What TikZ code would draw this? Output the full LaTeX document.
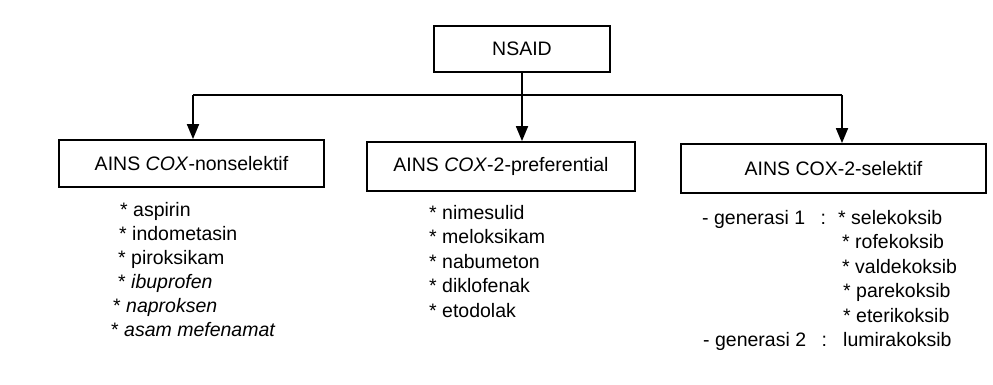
\documentclass[tikz,border=0pt]{standalone}
\usepackage{fontspec}
\setmainfont{Liberation Sans}
\usetikzlibrary{arrows.meta}
\begin{document}
\begin{tikzpicture}[x=1pt,y=-1pt,
  txt/.style={font=\fontsize{19.5}{24}\selectfont},
  box/.style={txt, draw, line width=1.8pt, inner sep=0pt},
  item/.style={txt, anchor=base west, inner sep=0pt},
  conn/.style={line width=1.8pt},
  arr/.style={conn, -{Triangle[width=12pt,length=15pt]}}]
\path[use as bounding box] (0,0) rectangle (993,385);

\node[box, minimum width=176pt, minimum height=46pt] (nsaid) at (522,49) {NSAID};
\node[box, minimum width=265pt, minimum height=47pt] (left) at (191.5,163.5) {AINS \textit{COX}-nonselektif};
\node[box, minimum width=268pt, minimum height=49pt] (mid) at (501,166.5) {AINS \textit{COX}-2-preferential};
\node[box, minimum width=305pt, minimum height=49pt] (right) at (833.5,168.5) {AINS COX-2-selektif};

\coordinate (lt) at (193,95);
\coordinate (rt) at (842,95);
\draw[conn] (lt) -- (rt);
\draw[arr] (lt) -- (lt |- left.north);
\draw[arr] (nsaid.south) -- (nsaid.south |- mid.north);
\draw[arr] (rt) -- (rt |- right.north);

% left list
\node[item] (l1) at (120,216) {* aspirin};
\node[item] (l2) at (119,240) {* indometasin};
\node[item] (l3) at (118,264) {* piroksikam};
\node[item] (l4) at (118,288) {* \textit{ibuprofen}};
\node[item] (l5) at (113,312) {* \textit{naproksen}};
\node[item] (l6) at (111,336) {* \textit{asam mefenamat}};

% middle list
\node[item] (m1) at (429,219) {* nimesulid};
\node[item] (m2) at (429,243.5) {* meloksikam};
\node[item] (m3) at (429,268) {* nabumeton};
\node[item] (m4) at (429,292.5) {* diklofenak};
\node[item] (m5) at (429,317) {* etodolak};

% right list
\node[item] (g1) at (702,224) {- generasi 1\hspace{0.8em}:};
\node[item] (r1) at (838,224) {* selekoksib};
\node[item] (r2) at (842,248.5) {* rofekoksib};
\node[item] (r3) at (842,273) {* valdekoksib};
\node[item] (r4) at (843,297.5) {* parekoksib};
\node[item] (r5) at (843,322) {* eterikoksib};
\node[item] (g2) at (703,346.5) {- generasi 2\hspace{0.8em}:};
\node[item] (r6) at (843,346.5) {lumirakoksib};
\end{tikzpicture}
\end{document}
